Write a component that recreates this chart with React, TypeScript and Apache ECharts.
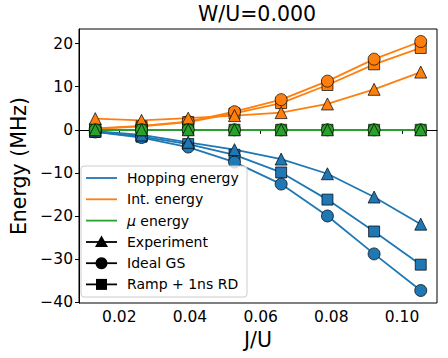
import React, { useEffect, useRef } from "react";
import * as echarts from "echarts";

const jOverU = [0.0132, 0.0263, 0.0395, 0.0526, 0.0658, 0.0789, 0.0921, 0.1053];
const xTicks = [0.02, 0.04, 0.06, 0.08, 0.1];
const yTicks = [-40, -30, -20, -10, 0, 10, 20];

const hopExperiment = [-0.3, -1.2, -2.9, -4.6, -6.8, -10.2, -15.6, -21.9];
const hopIdeal = [-0.5, -1.8, -4.0, -7.5, -12.6, -20.0, -28.8, -37.3];
const hopRamp = [-0.5, -1.6, -3.3, -5.8, -9.9, -16.2, -23.6, -31.3];

const intExperiment = [2.6, 2.2, 2.7, 3.3, 4.0, 6.0, 9.4, 13.4];
const intIdeal = [0.3, 0.9, 1.9, 4.2, 7.0, 11.3, 16.4, 20.5];
const intRamp = [0.2, 0.8, 1.8, 3.8, 6.2, 10.4, 15.2, 19.0];

const muExperiment = [0, 0, 0, 0, 0, 0, 0, 0];
const muIdeal = [0, 0, 0, 0, 0, 0, 0, 0];
const muRamp = [0, 0, 0, 0, 0, 0, 0, 0];

const BLUE = "#1f77b4";
const ORANGE = "#ff7f0e";
const GREEN = "#2ca02c";
const FONT = "DejaVu Sans";

const fmtMinus = (v: number) => String(v).replace("-", "\u2212");

function mk(vals: number[], color: string, symbol: string, size: number) {
  return {
    type: "line",
    data: jOverU.map((x, i) => [x, vals[i]]),
    symbol,
    symbolSize: size,
    showAllSymbol: true,
    lineStyle: { color, width: 1.8 },
    itemStyle: { color, borderColor: "rgba(0,0,0,0.7)", borderWidth: 1 },
    emphasis: { disabled: true },
    z: 2,
  };
}

export default function App() {
  const ref = useRef<HTMLDivElement>(null);
  useEffect(() => {
    if (!ref.current) return;
    const chart = echarts.init(ref.current, null, { renderer: "svg" });
    const lx = 86;
    const rows = [178, 199.3, 220.6, 242, 263.2, 284.4];
    const legendLines = [
      { color: BLUE, text: "Hopping energy" },
      { color: ORANGE, text: "Int. energy" },
      { color: GREEN, text: "{i|\u03bc} energy" },
      { color: "#000", text: "Experiment", marker: "tri" },
      { color: "#000", text: "Ideal GS", marker: "circ" },
      { color: "#000", text: "Ramp + 1ns RD", marker: "sq" },
    ];
    const legendEls: any[] = [
      {
        type: "rect",
        shape: { x: 81, y: 166, width: 166, height: 131, r: 3 },
        style: { fill: "rgba(255,255,255,0.8)", stroke: "#cccccc", lineWidth: 1 },
        z: 10,
      },
    ];
    legendLines.forEach((it, k) => {
      const y = rows[k];
      legendEls.push({
        type: "line",
        shape: { x1: lx, y1: y, x2: lx + 31, y2: y },
        style: { stroke: it.color, lineWidth: 1.8 },
        z: 11,
      });
      const cx = lx + 15.5;
      if (it.marker === "tri") {
        legendEls.push({
          type: "polygon",
          shape: { points: [[cx, y - 6.5], [cx - 6.5, y + 5], [cx + 6.5, y + 5]] },
          style: { fill: "#000" },
          z: 12,
        });
      } else if (it.marker === "circ") {
        legendEls.push({ type: "circle", shape: { cx, cy: y, r: 6 }, style: { fill: "#000" }, z: 12 });
      } else if (it.marker === "sq") {
        legendEls.push({
          type: "rect",
          shape: { x: cx - 5.5, y: y - 5.5, width: 11, height: 11 },
          style: { fill: "#000" },
          z: 12,
        });
      }
      legendEls.push({
        type: "text",
        x: 127,
        y,
        style: {
          text: it.text,
          fontFamily: FONT,
          fontSize: 14,
          fill: "#000",
          verticalAlign: "middle",
          rich: { i: { fontStyle: "italic", fontFamily: FONT, fontSize: 14 } },
        },
        z: 12,
      });
    });

    const option: any = {
      animation: false,
      textStyle: { fontFamily: FONT },
      grid: {
        left: 73,
        right: 11,
        top: 29,
        bottom: 55,
        show: true,
        borderColor: "#000",
        borderWidth: 1,
        backgroundColor: "transparent",
      },
      xAxis: {
        type: "value",
        min: 0.0086,
        max: 0.1099,
        name: "J/U",
        nameLocation: "middle",
        nameGap: 23,
        nameTextStyle: { fontSize: 20.5, color: "#000", fontFamily: FONT },
        axisLine: { show: true, lineStyle: { color: "#000" } },
        axisTick: { show: true, inside: false, length: 4, customValues: xTicks, lineStyle: { color: "#000" } },
        axisLabel: {
          customValues: xTicks,
          formatter: (v: number) => v.toFixed(2),
          fontSize: 15.5,
          color: "#000",
          margin: 6,
          fontFamily: FONT,
        },
        splitLine: { show: false },
      },
      yAxis: {
        type: "value",
        min: -40.2,
        max: 23.4,
        name: "Energy (MHz)",
        nameLocation: "middle",
        nameGap: 50,
        nameTextStyle: { fontSize: 20.5, color: "#000", fontFamily: FONT },
        axisLine: { show: true, lineStyle: { color: "#000" } },
        axisTick: { show: true, inside: false, length: 4, customValues: yTicks, lineStyle: { color: "#000" } },
        axisLabel: {
          customValues: yTicks,
          formatter: (v: number) => fmtMinus(v),
          fontSize: 15.5,
          color: "#000",
          margin: 6,
          fontFamily: FONT,
        },
        splitLine: { show: false },
      },
      graphic: [
        {
          type: "text",
          x: 257,
          y: 3,
          style: {
            text: "W/U=0.000",
            fontFamily: FONT,
            fontSize: 20.5,
            fill: "#000",
            textAlign: "center",
            verticalAlign: "top",
          },
        },
        ...legendEls,
      ],
      series: [
        mk(hopRamp, BLUE, "rect", 11),
        mk(hopIdeal, BLUE, "circle", 12),
        mk(hopExperiment, BLUE, "triangle", 12),
        mk(intRamp, ORANGE, "rect", 11),
        mk(intIdeal, ORANGE, "circle", 12),
        mk(intExperiment, ORANGE, "triangle", 12),
        mk(muRamp, GREEN, "rect", 11),
        mk(muIdeal, GREEN, "circle", 12),
        mk(muExperiment, GREEN, "triangle", 12),
      ],
    };
    chart.setOption(option);
    return () => chart.dispose();
  }, []);
  return <div ref={ref} style={{ width: 448, height: 358, position: "absolute", left: 0, top: 0 }} />;
}
